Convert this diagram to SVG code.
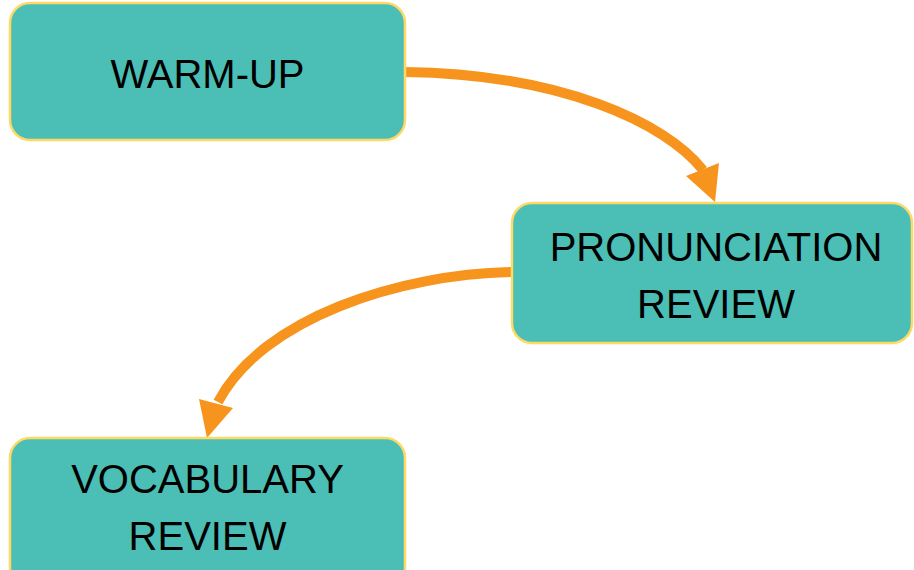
<svg xmlns="http://www.w3.org/2000/svg" width="914" height="570" viewBox="0 0 914 570">
<style>
.box{fill:#4BBFB5;stroke:#FFD966;stroke-width:2.5}
.lbl{font-family:"Liberation Sans",Arial,sans-serif;font-size:40px;fill:#000;text-anchor:middle}
.conn{fill:none;stroke:#F7941D;stroke-width:10}
.head{fill:#F7941D}
</style>
<rect width="914" height="570" fill="#fff"/>
<g id="connectors">
<path class="conn" d="M405,72 C560,74 665,122 703,170"/>
<polygon class="head" points="686,176 719,163 715,202"/>
<path class="conn" d="M512,272 C400,274 262,318 218,402"/>
<polygon class="head" points="199,399 233,408 207,438"/>
</g>
<g id="warmup">
<rect class="box" x="10" y="3" width="395" height="137" rx="20"/>
<text class="lbl" x="207.5" y="88">WARM-UP</text>
</g>
<g id="pronunciation">
<rect class="box" x="512" y="203" width="400" height="140" rx="20"/>
<text class="lbl" x="716" y="261">PRONUNCIATION</text>
<text class="lbl" x="716" y="318">REVIEW</text>
</g>
<g id="vocabulary">
<rect class="box" x="10" y="438" width="395" height="150" rx="20"/>
<text class="lbl" x="207.5" y="493">VOCABULARY</text>
<text class="lbl" x="207.5" y="550">REVIEW</text>
</g>
</svg>
